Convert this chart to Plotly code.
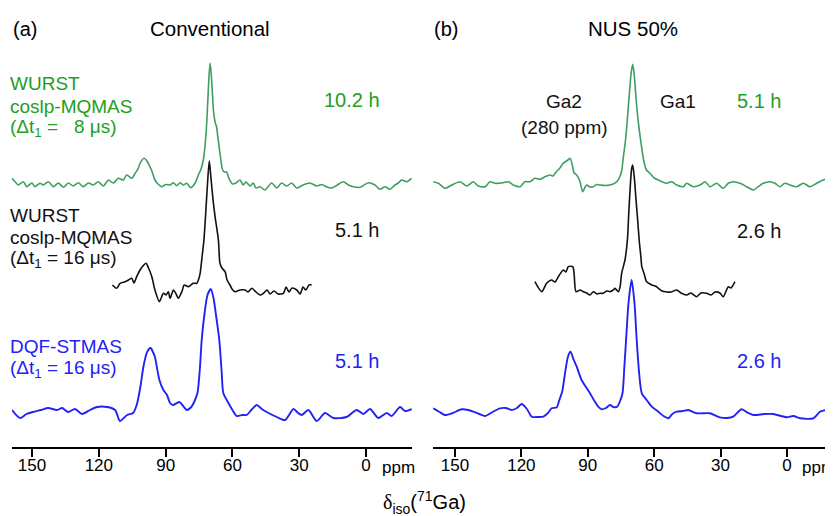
import plotly.graph_objects as go

# ---------------- data (ppm, intensity above each trace's baseline) ----------------
green_a_ppm = [159.1, 157.6, 156.2, 153.9, 152.4, 150.1, 148.7, 146.4, 144.9, 142.7, 140.4, 138.2, 135.9, 133.7,
               131.5, 129.2, 127.0, 124.7, 122.5, 120.2, 118.0, 115.7, 113.5, 111.2, 109.0, 107.5, 105.2, 103.7,
               102.4, 101.5, 99.7, 98.4, 96.2, 94.8, 93.4, 91.8, 90.0, 88.0, 86.5, 85.0, 83.5, 82.0, 80.5, 78.7,
               76.8, 75.3, 74.1, 73.0, 72.0, 71.5, 71.0, 70.5, 70.0, 69.5, 69.0, 68.5, 67.8, 67.1, 66.5, 65.5,
               64.4, 63.5, 62.6, 61.8, 61.0, 60.0, 58.4, 56.6, 55.2, 53.9, 52.1, 50.7, 49.4, 47.6, 45.4, 42.4,
               40.1, 37.9, 35.6, 33.4, 31.1, 28.3, 25.2, 22.1, 19.9, 17.6, 15.4, 13.2, 10.2, 7.9, 5.7, 2.7, -1.0,
               -4.0, -6.3, -8.5, -10.8, -13.0, -14.5, -16.0, -18.3, -20.5]
green_a_int = [4.7, 1.3, -2, 1.3, -3.7, 0, -3.7, -0.3, -2, 1.3, -3.7, 0, -4.3, 0,
               -3, 0.3, -3.7, 0, -2, 1.3, -3, 3, 0, 4.7, 3, 8, 4.7, 9.7,
               14, 19.7, 24.7, 22, 12, 3, -1, -3.7, -1.5, -2, 0.3, -2.7, 0.3, -2, -0.3, -4.7,
               -0.3, 8, 14, 24, 45, 62, 85, 108, 120, 108, 90, 72, 61, 56, 45, 28,
               13, 11, 11, 6, 2, -1, 0, 3, -2, 1, -3, 0, -5, -3.7, -7, 0,
               -5, 0, -3, 0, -5, -2, 0, -3, -1.5, -4, -5, -2.5, 1.3, -2, -3.7, -4.3, 0.3,
               -2, -6.3, -3.7, -6.3, -2, 0, 3, 1.3, 4.7]

black_a_ppm = [113.9, 112.0, 110.5, 108.2, 106.7, 105.2, 104.2, 103.0, 101.5, 100.2, 98.8, 97.7, 96.2, 94.8,
               92.8, 91.0, 89.8, 88.8, 88.0, 86.5, 85.3, 84.3, 82.6, 81.7, 79.8, 77.6, 76.0, 75.3, 74.5, 73.8,
               72.8, 72.1, 71.2, 70.4, 69.6, 68.7, 67.8, 66.3, 65.6, 64.7, 63.3, 62.4, 61.1, 60.2, 58.8, 56.6,
               54.3, 53.0, 51.3, 49.4, 47.6, 46.1, 44.5, 43.1, 41.3, 39.5, 37.1, 35.9, 34.6, 33.2, 31.1, 29.6,
               28.3, 27.0, 25.6, 24.4]
black_a_int = [4, 0.7, 5.7, 7.3, 9, 10.7, 6, 12.3, 19, 23, 25.7, 21, 12.3, -1,
               -12.7, -4.3, -6, -2.7, -9.3, -1, -5, -9.3, -2, 4, 2.3, 5.7, 5.7, 9, 15.7, 29,
               49, 72.3, 105, 128, 110, 89, 72.3, 49, 25.7, 21, 17.3, 9, 4, 0, -2.7, -1,
               -1, -3, 0.7, -3, -6, -4.3, -1, -5, -2, -5, -4.3, 2, -3, 1, -1, -5,
               2, -1, 4, 4]

blue_a_ppm = [159.0, 155.4, 152.5, 149.6, 146.0, 142.8, 138.8, 136.5, 133.8, 130.7, 127.5, 124.0, 120.8, 116.3,
              112.7, 110.5, 107.3, 104.6, 103.0, 102.0, 101.2, 100.0, 98.5, 97.5, 96.7, 95.5, 94.8, 92.8, 91.0,
              89.4, 88.0, 86.7, 83.8, 80.5, 78.5, 77.0, 75.7, 74.6, 73.8, 72.5, 71.2, 69.7, 68.5, 67.2, 65.9,
              64.8, 64.1, 61.8, 60.0, 58.1, 55.5, 53.6, 51.5, 49.1, 46.8, 44.6, 40.1, 36.4, 32.6, 30.5, 28.9,
              25.9, 22.1, 18.4, 14.7, 8.7, 4.2, 1.2, -1.8, -5.5, -9.3, -11.5, -15.3, -17.5, -20.5]
blue_a_int = [3, -5, -1, 1, 3, 5, 3, 5, 1, 4, -1, 3, 6, 6,
              3, -8, -2, 0, 8, 18, 28, 46, 60, 64, 65, 60, 56, 33, 23,
              18, 10, 8, 11, 3, 6, 12, 20, 45, 73, 100, 118, 124, 115, 95, 73,
              40, 20, 10, 3, -3, -2, -2, 3, 8, 4, 1, -4, -7, 4, 0, -2,
              3, -8, 0, -5, -4, 3, -1, 4, -5, 0, -3, 6, 2, 4]

green_b_ppm = [159.8, 157.5, 154.5, 151.5, 147.7, 144.7, 141.7, 139.5, 136.4, 134.2, 131.9, 128.2, 125.9, 123.7,
               120.6, 118.4, 116.1, 113.9, 111.6, 109.3, 107.1, 105.6, 104.8, 102.6, 101.1, 100.3, 99.0, 98.0,
               97.0, 96.2, 95.0, 93.6, 92.3, 91.2, 90.5, 89.0, 87.5, 86.0, 84.5, 82.0, 80.0, 78.5, 76.9, 75.8,
               74.7, 74.0, 73.0, 72.2, 71.2, 70.4, 69.7, 69.0, 68.2, 67.2, 65.6, 64.5, 63.5, 61.9, 60.0, 58.1,
               56.2, 54.4, 52.1, 49.8, 46.8, 45.3, 42.3, 39.3, 37.0, 34.8, 31.8, 28.8, 26.5, 24.3, 21.2, 18.2,
               15.2, 13.0, 10.7, 7.7, 5.4, 3.2, 1.0, -1.4, -4.4, -7.4, -10.4, -13.4, -16.4, -19.4, -20.7]
green_b_int = [1.3, -0.3, -5.3, -2, 1.3, -3, 1.3, -3, -3.7, 1.3, -0.3, 0.3, 1.3, -2,
               -3.7, 1.3, 1.3, 4.7, 3.7, 6.3, 8, 7, 9.7, 15, 19.7, 21, 23, 24.7,
               18, 10, 8, 2, -8.7, -4, -2, -4, -3.7, -1.5, -2, -2.5, -2, -1, 1.3, 5,
               12, 24.7, 42, 61.3, 90, 110, 118.7, 108, 85, 61.3, 34.7, 20, 13, 9.7, 5, 3,
               1, -0.3, 1.3, -2, -3.7, -0.3, -3.7, -2, 1.3, -3.7, -0.3, -5.3, -0.3, 1.3, -0.3, -3.7,
               -7, -3.7, -0.3, 1.3, -0.3, -3.7, -0.3, -2, -3.7, -0.3, -3.7, -0.3, 3, 4.7, 5]

black_b_ppm = [113.9, 110.8, 108.6, 106.3, 104.8, 103.3, 101.1, 99.9, 98.8, 96.8, 96.2, 95.3, 93.5, 92.0,
               90.5, 89.0, 87.5, 85.8, 84.5, 83.0, 81.5, 80.0, 78.5, 77.7, 76.2, 75.4, 74.7, 73.2, 72.1,
               71.5, 70.8, 70.2, 69.7, 69.0, 68.3, 67.5, 66.7, 66.0, 65.6, 64.6, 63.4, 61.1, 58.9, 58.1,
               56.5, 54.3, 52.4, 49.8, 47.9, 45.3, 43.4, 40.8, 38.9, 36.3, 34.3, 32.5, 30.3, 28.8, 26.5,
               25.3, 23.5]
black_b_int = [7.3, -2.7, 5.7, 9, 7, 12.3, 19, 17, 22.3, 22.3, 15.7, -2.7, -1, -2.7,
               -4, -6, -2.7, -5, -4.3, -4.3, -2, -2.7, -1, 0.7, -2.7, 2.3, 15.7, 29, 49,
               75, 103, 120, 124, 112, 92, 70, 47, 32, 22.3, 15.7, 7.3, 4, 2.3, 0.7,
               -2, -3, -3, -1, -4, -6, -4, -7.7, -4, -4.3, -6, -3, -4, -7.7, 2.3,
               1, 7.3]

blue_b_ppm = [159.8, 157.0, 154.5, 151.0, 147.0, 144.0, 141.7, 139.0, 136.4, 133.0, 129.7, 127.0, 124.4, 122.0,
              119.9, 117.5, 115.3, 112.5, 110.1, 108.0, 106.3, 104.0, 103.0, 101.5, 100.4, 99.0, 97.8, 96.5,
              95.0, 92.8, 89.0, 87.0, 85.3, 83.7, 81.8, 80.0, 78.5, 76.7, 75.4, 74.3, 73.5, 72.7, 71.6, 70.2,
              68.9, 67.9, 66.8, 65.6, 63.4, 61.1, 58.1, 55.8, 53.6, 51.8, 49.8, 47.0, 44.6, 40.8, 34.8, 30.3,
              27.0, 24.3, 20.5, 17.5, 15.2, 10.0, 6.2, 0.1, -2.9, -5.9, -11.9, -14.9, -17.5, -20.2]
blue_b_int = [4.7, 1, -2, 0, 3.7, 3, 1.3, -1, -3, 1, 4.7, 5, 3, 5,
              9, 4, -3.7, -4, -3.7, 0, 4.7, 5.7, 12, 22, 38, 56, 61.3, 54,
              46.3, 33, 19.7, 12, 6.3, 3.7, 5, 8, 6, 6.3, 12, 20, 45, 73, 110, 133,
              110, 73, 40, 19.7, 13, 6.3, 1.3, -3, -5.3, -1, 1.3, 2, 3, -0.3, -0.3, -4.3,
              -5, -3.7, 3.7, 0, -2, -1, -1, -4.3, -3, -5.3, -5.3, 1.3, 3, 4.7]

tick_vals = [150, 120, 90, 60, 30, 0]
tick_text = ["150", "120", "90", "60", "30", "0"]

# ---------------- layout constants ----------------
# the page body adds an 8 px margin, so the figure is 8 px smaller and
# reference pixel positions are converted with that 8 px offset.
PAGE_OFF = 8
W, H = 825, 508
AXIS_Y = 447                      # reference pixel row of the x axis line
PLOT_H = AXIS_Y - PAGE_OFF        # plot area height (figure px)
OFF_GREEN, OFF_BLACK, OFF_BLUE = 264, 158, 34

C_GREEN_LINE = "#3d9e63"
C_GREEN_TXT = "#1f9e1f"
C_BLACK = "#111111"
C_BLUE = "#2222f5"
FONT = "Liberation Sans, Arial, sans-serif"


def shift(vals, off):
    return [v + off for v in vals]


def px_x(x):
    return (x - PAGE_OFF) / W


def px_y(y):
    return (AXIS_Y - y) / PLOT_H


fig = go.Figure()
traces = [
    (green_a_ppm, green_a_int, OFF_GREEN, C_GREEN_LINE, "x", 1.6),
    (black_a_ppm, black_a_int, OFF_BLACK, C_BLACK, "x", 1.6),
    (blue_a_ppm, blue_a_int, OFF_BLUE, C_BLUE, "x", 1.9),
    (green_b_ppm, green_b_int, OFF_GREEN, C_GREEN_LINE, "x2", 1.6),
    (black_b_ppm, black_b_int, OFF_BLACK, C_BLACK, "x2", 1.6),
    (blue_b_ppm, blue_b_int, OFF_BLUE, C_BLUE, "x2", 1.9),
]
for xs, ys, off, col, xa, lw in traces:
    fig.add_trace(go.Scatter(x=xs, y=shift(ys, off), mode="lines", xaxis=xa, yaxis="y",
                             line=dict(color=col, width=lw, shape="spline", smoothing=0.7),
                             hoverinfo="skip", showlegend=False))

axis_common = dict(showline=True, linecolor="black", linewidth=1.5, ticks="outside", ticklen=8,
                   tickwidth=1.5, tickcolor="black", tickvals=tick_vals, ticktext=tick_text,
                   ticklabelstandoff=-6,
                   showgrid=False, zeroline=False, tickfont=dict(family=FONT, size=17, color="black"),
                   fixedrange=True)
fig.update_layout(
    width=W, height=H,
    margin=dict(l=0, r=0, t=0, b=H - PLOT_H),
    paper_bgcolor="white", plot_bgcolor="white",
    showlegend=False,
    xaxis=dict(domain=[px_x(12), px_x(412)], range=[159.0, -20.65], anchor="y", **axis_common),
    xaxis2=dict(domain=[px_x(433), 1.0], range=[159.94, -20.8], anchor="y", **axis_common),
    yaxis=dict(range=[0, PLOT_H], visible=False, fixedrange=True),
)


def ann(text, xpx, ypx, color="black", size=19, anchor="left"):
    fig.add_annotation(text=text, x=px_x(xpx), y=px_y(ypx), xref="paper", yref="paper",
                       xanchor=anchor, yanchor="middle", showarrow=False,
                       font=dict(family=FONT, size=size, color=color))


NB = "\u00a0"
ann("(a)", 11, 29, size=20)
ann("Conventional", 210, 29, size=20.5, anchor="center")
ann("(b)", 432, 29, size=20)
ann("NUS 50%", 633, 29, size=20.5, anchor="center")

ann("WURST", 8, 83, C_GREEN_TXT)
ann("coslp-MQMAS", 8, 106, C_GREEN_TXT)
ann("(Δt<sub>1</sub> =" + NB * 3 + "8 μs)", 8, 128, C_GREEN_TXT)
ann("10.2 h", 352, 100, C_GREEN_TXT, 20, "center")

ann("WURST", 8, 215, C_BLACK)
ann("coslp-MQMAS", 8, 238, C_BLACK)
ann("(Δt<sub>1</sub> = 16 μs)", 8, 259, C_BLACK)
ann("5.1 h", 357, 230, C_BLACK, 20, "center")

ann("DQF-STMAS", 8, 346, C_BLUE)
ann("(Δt<sub>1</sub> = 16 μs)", 8, 369, C_BLUE)
ann("5.1 h", 357, 361, C_BLUE, 20, "center")

ann("Ga2", 564, 101, C_BLACK, 19, "center")
ann("(280 ppm)", 564, 128, C_BLACK, 19, "center")
ann("Ga1", 678, 101, C_BLACK, 19, "center")
ann("5.1 h", 759, 101, C_GREEN_TXT, 20, "center")
ann("2.6 h", 759, 231, C_BLACK, 20, "center")
ann("2.6 h", 759, 361, C_BLUE, 20, "center")

ann("ppm", 380, 467, size=17)
ann("ppm", 800, 467, size=17)
ann("<span style='font-family:Liberation Serif'>δ</span><sub>iso</sub>(<sup>71</sup>Ga)", 424, 502,
    size=20, anchor="center")

fig.write_html("out.html")
